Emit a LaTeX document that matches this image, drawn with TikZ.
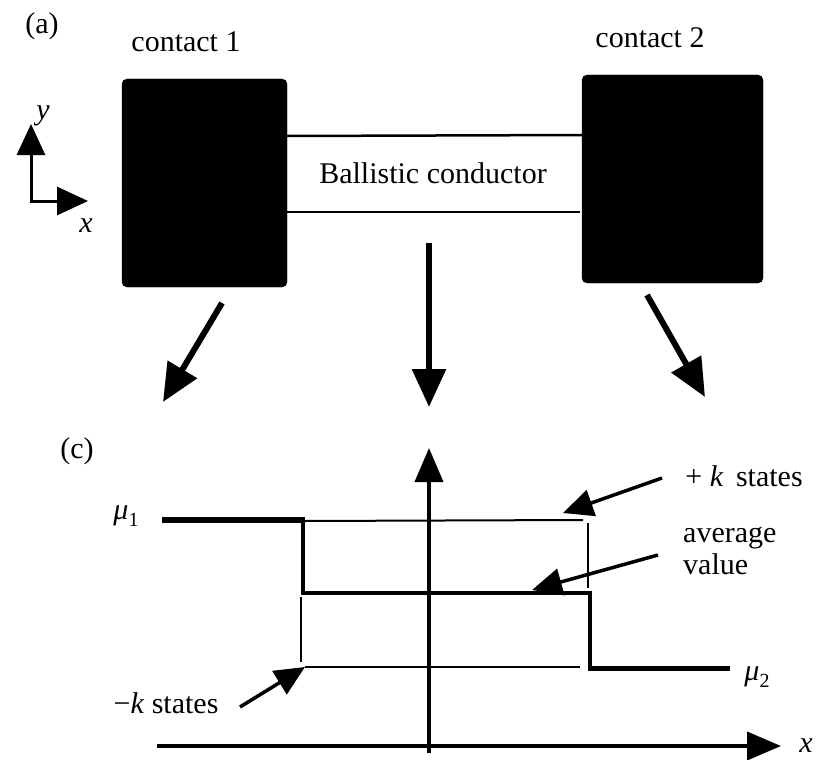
\documentclass[tikz,border=0pt]{standalone}
\usepackage{fontspec}
\setmainfont{Liberation Serif}
\usetikzlibrary{arrows.meta}
\newcommand{\sub}[1]{\raisebox{-0.25em}{\fontsize{20}{20}\selectfont #1}}
\begin{document}
\begin{tikzpicture}[x=1pt,y=-1pt,
  every node/.style={font=\fontsize{30}{32}\selectfont, inner sep=0pt},
  contactbox/.style={fill=black, draw=black, rounded corners=5pt},
  bigarrow/.style={line width=6pt, -{Triangle[length=38pt,width=33pt]}},
  axisarrow/.style={line width=4pt, -{Triangle[length=34pt,width=28pt]}},
  smallaxis/.style={line width=3pt, -{Triangle[length=31pt,width=28pt]}},
  labelarrow/.style={line width=3.5pt, -{Triangle[length=30pt,width=27pt]}},
  thinline/.style={line width=2pt},
  hairline/.style={line width=1.5pt},
  thickline/.style={line width=6pt},
  medline/.style={line width=4pt},
]
\useasboundingbox (0,0) rectangle (817,760);

% (a) part
\node (lbla) at (42,26) {(a)};
\node (c1lbl) at (186,42) {contact 1};
\node (c2lbl) at (650,38) {contact 2};
\draw[contactbox] (122,79) rectangle (287,287);
\draw[contactbox] (582,75) rectangle (763,283);
\coordinate (ct1) at (287,136);
\coordinate (ct2) at (584,135);
\coordinate (cb1) at (287,212);
\coordinate (cb2) at (580,212);
\draw[line width=2.5pt] (ct1) -- (ct2);
\draw[line width=2.5pt] (cb1) -- (cb2);
\node (ball) at (433,173) {Ballistic conductor};

% small axes
\coordinate (ax0) at (31,201);
\coordinate (axy) at (31,124);
\coordinate (axx) at (88,201);
\draw[smallaxis] (ax0) -- (axy);
\draw[smallaxis] ([xshift=-1.5pt]ax0) -- (axx);
\node (ly) at (43,116) {\itshape y};
\node (lx) at (86,226) {\itshape x};

% top arrows
\coordinate (a1s) at (222,303);
\coordinate (a1e) at (163,402);
\coordinate (a2s) at (429,243);
\coordinate (a2e) at (429,407);
\coordinate (a3s) at (647,295);
\coordinate (a3e) at (705,397);
\draw[bigarrow] (a1s) -- (a1e);
\draw[bigarrow] (a2s) -- (a2e);
\draw[bigarrow] (a3s) -- (a3e);

% (c) part
\node (lblc) at (77,451) {(c)};
\coordinate (vb) at (429,753);
\coordinate (vt) at (429,448);
\draw[axisarrow] (vb) -- (vt);
\coordinate (hl) at (157,746);
\coordinate (hr) at (781,746);
\draw[axisarrow] (hl) -- (hr);
\node (xlab) at (806,746) {\itshape x};

% potential profile
\coordinate (p1) at (162,520);
\coordinate (p2) at (303,520);
\coordinate (p3) at (303,593);
\coordinate (p4) at (590,593);
\coordinate (p5) at (590,668);
\coordinate (p6) at (730,668);
\draw[thickline] (p1) -- ([xshift=1.75pt]p2);
\draw[line width=3.5pt] (p2) -- (p3);
\draw[medline] ([xshift=-1.75pt]p3) -- ([xshift=2pt]p4);
\draw[medline] (p4) -- (p5);
\draw[line width=5pt] ([xshift=-2pt]p5) -- (p6);

% +k / -k states box lines
\coordinate (t1) at (305,521);
\coordinate (t2) at (583,520);
\coordinate (r1) at (588,523);
\coordinate (r2) at (588,588);
\coordinate (l1) at (301,597);
\coordinate (l2) at (301,662);
\coordinate (b1) at (305,667);
\coordinate (b2) at (580,667);
\draw[thinline] (t1) -- (t2);
\draw[hairline] (r1) -- (r2);
\draw[hairline] (l1) -- (l2);
\draw[thinline] (b1) -- (b2);

\node (mu1) at (126,516) {\itshape μ\sub{\upshape 1}};
\node (mu2) at (757,677) {\itshape μ\sub{\upshape 2}};

\node (pk) at (744,476) {+ \textit{k}\, states};
\node[align=left, anchor=west, font=\fontsize{30}{32}\selectfont] (avg) at (683,551) {average\\value};
\node (mk) at (166,703) {−\textit{k} states};

\coordinate (pks) at (662,478);
\coordinate (pke) at (563,513);
\coordinate (avs) at (658,555);
\coordinate (ave) at (532,590);
\coordinate (mks) at (240,707);
\coordinate (mke) at (305,667);
\draw[labelarrow] (pks) -- (pke);
\draw[labelarrow] (avs) -- (ave);
\draw[labelarrow] (mks) -- (mke);
\end{tikzpicture}
\end{document}
